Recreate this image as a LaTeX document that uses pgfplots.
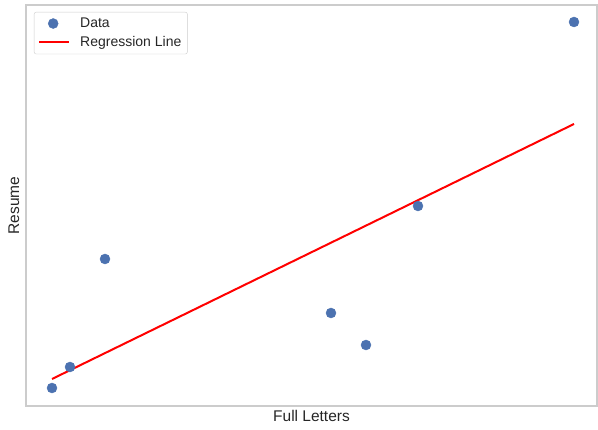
\documentclass[border=0pt]{standalone}
\usepackage{fontspec}
\setmainfont{Liberation Sans}
\usepackage{pgfplots}
\pgfplotsset{compat=1.18}
\definecolor{sblue}{HTML}{4C72B0}
\definecolor{txt}{HTML}{262626}
\definecolor{edge}{HTML}{CCCCCC}
\pgfplotsset{
  dotlegend/.style={legend image code/.code={\draw[##1] plot coordinates {(14pt,0pt)}; \path (0pt,0pt) (38pt,0pt);}},
  linelegend/.style={legend image code/.code={\draw[##1] (0pt,0pt) -- (30pt,0pt); \path (38pt,0pt);}},
}
\begin{document}
\fontsize{13.5}{16}\selectfont
\begin{tikzpicture}[x=1pt,y=1pt]
\useasboundingbox (0,0) rectangle (598,430);
\begin{axis}[
  at={(26pt,24pt)}, anchor=south west,
  scale only axis, width=571pt, height=401pt,
  xmin=26, xmax=597, ymin=24, ymax=425,
  xtick=\empty, ytick=\empty,
  axis line style={edge, line width=1.6pt},
  xlabel={Full Letters}, ylabel={Resume},
  label style={text=txt, font=\fontsize{15.5}{18}\selectfont},
  xlabel style={yshift=0pt},
  ylabel style={yshift=2pt},
  legend style={at={(8pt,394pt)}, anchor=north west, draw=edge, rounded corners=2pt,
    font=\fontsize{14}{16}\selectfont, text=txt, inner xsep=4pt, inner ysep=3.5pt, row sep=3pt},
  legend cell align=left,
]
\addplot[only marks, mark=*, mark size=5pt, mark options={draw=sblue, fill=sblue}, dotlegend]
  coordinates {(52,42) (70,63) (105,171) (331,117) (366,85) (418,224) (574,408)};
\addlegendentry{Data}
\addplot[red, line width=2pt, linelegend]
  coordinates {(52,51) (574,306)};
\addlegendentry{Regression Line}
\end{axis}
\end{tikzpicture}
\end{document}
